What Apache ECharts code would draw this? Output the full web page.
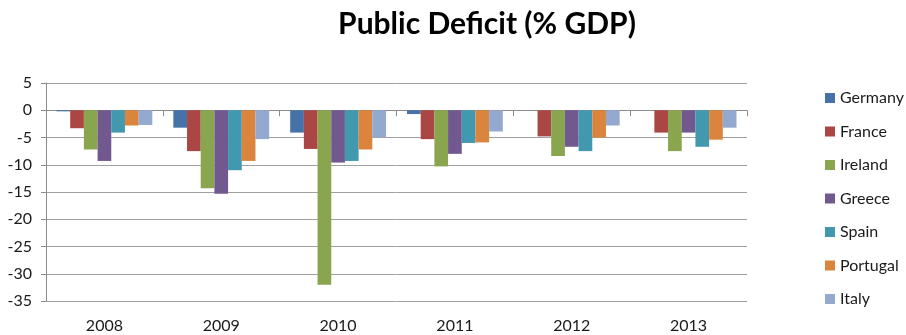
<!DOCTYPE html>
<html>
<head>
<meta charset="utf-8">
<script src="https://cdn.jsdelivr.net/npm/echarts@6/dist/echarts.min.js"></script>
<style>
  html, body { margin: 0; padding: 0; background: #fff; }
  #chart { width: 906px; height: 335px; }
</style>
</head>
<body>
<div id="chart"></div>
<script>
// Public deficit as a share of GDP, by country and year
const years = ['2008', '2009', '2010', '2011', '2012', '2013'];
const germany  = [-0.2, -3.2, -4.1, -0.7, 0, 0];
const france   = [-3.3, -7.5, -7.1, -5.3, -4.8, -4.1];
const ireland  = [-7.2, -14.3, -32.0, -10.3, -8.4, -7.5];
const greece   = [-9.3, -15.3, -9.6, -8.0, -6.7, -4.1];
const spain    = [-4.1, -11.0, -9.3, -6.0, -7.5, -6.7];
const portugal = [-2.8, -9.3, -7.2, -5.9, -5.0, -5.4];
const italy    = [-2.7, -5.3, -5.0, -3.9, -2.8, -3.2];

const countries = ['Germany', 'France', 'Ireland', 'Greece', 'Spain', 'Portugal', 'Italy'];
const values = [germany, france, ireland, greece, spain, portugal, italy];
const colors = ['#4572A7', '#AA4643', '#89A54E', '#71588F', '#4198AF', '#DB843D', '#93A9CF'];

const yMin = -35, yMax = 5, yStep = 5;
const font = 'Lato, "Open Sans", sans-serif';

const chart = echarts.init(document.getElementById('chart'), null, { renderer: 'canvas' });

chart.setOption({
  animation: false,
  color: colors,
  title: {
    text: 'Public Deficit (% GDP)',
    left: 482,
    top: 4,
    textAlign: 'center',
    textStyle: { fontFamily: font, fontWeight: 'bold', fontSize: 30, color: '#000' }
  },
  legend: {
    orient: 'vertical',
    left: 820,
    top: 85,
    itemWidth: 10,
    itemHeight: 10,
    itemGap: 17.5,
    icon: 'rect',
    textStyle: { fontFamily: font, fontSize: 16, color: '#1a1a1a', lineHeight: 16, padding: [0, 0, 0, 0] },
    data: countries
  },
  grid: { left: 46, right: 159, top: 83, bottom: 34, containLabel: false },
  xAxis: [
    {
      type: 'category',
      data: years,
      position: 'bottom',
      axisLine: { show: false, onZero: false },
      axisTick: { show: false },
      axisLabel: { fontFamily: font, fontSize: 16, color: '#1a1a1a', margin: 17 }
    },
    {
      type: 'category',
      data: years,
      position: 'bottom',
      axisLine: { show: true, onZero: true, lineStyle: { color: '#8c8c8c', width: 1 } },
      axisTick: { show: true, length: 6, lineStyle: { color: '#8c8c8c' } },
      axisLabel: { show: false }
    }
  ],
  yAxis: {
    type: 'value',
    min: yMin,
    max: yMax,
    interval: yStep,
    axisLine: { show: true, lineStyle: { color: '#8c8c8c' } },
    axisTick: { show: true, length: 5, lineStyle: { color: '#8c8c8c' } },
    axisLabel: { fontFamily: font, fontSize: 16, color: '#1a1a1a', margin: 14 },
    splitLine: { show: true, lineStyle: { color: '#a0a0a0', width: 1 } }
  },
  series: countries.map((name, i) => ({
    name: name,
    type: 'bar',
    xAxisIndex: 0,
    data: values[i],
    barGap: '0%',
    barCategoryGap: '18%',
    itemStyle: { color: colors[i] }
  }))
});
</script>
</body>
</html>
